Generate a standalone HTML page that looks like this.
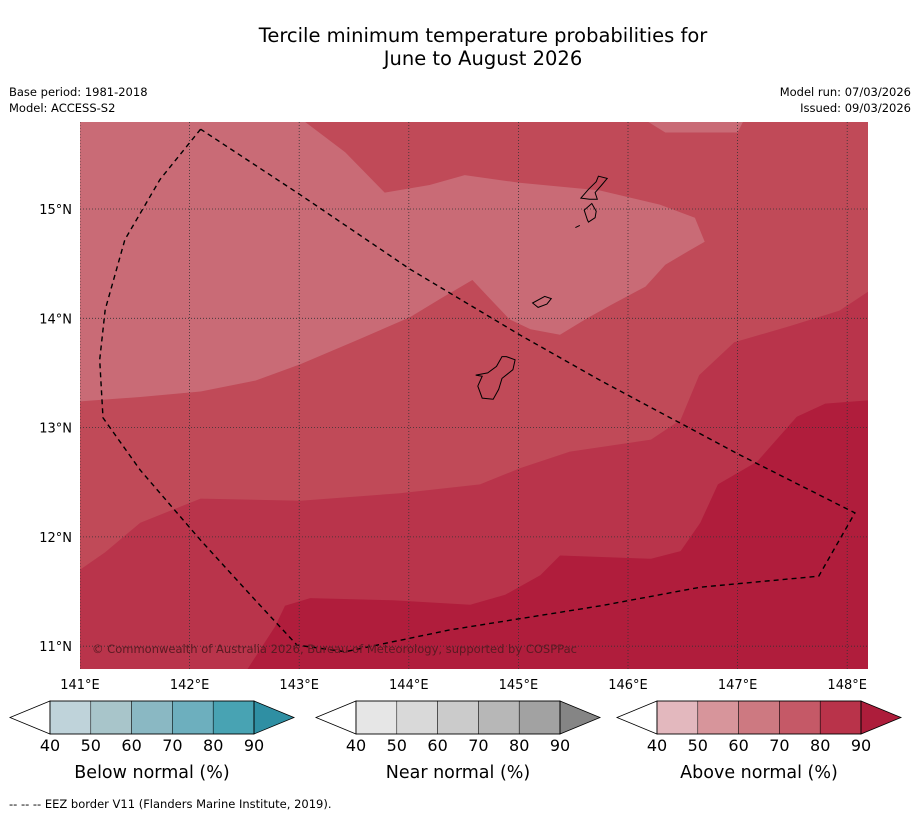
<!DOCTYPE html>
<html><head><meta charset="utf-8"><style>
body{margin:0;background:#fff;}
svg{display:block;font-family:"DejaVu Sans","Liberation Sans",sans-serif;}
</style></head><body>
<svg id="chart" width="919" height="816" viewBox="0 0 919 816">
<text x="483" y="42" font-size="19.5" text-anchor="middle">Tercile minimum temperature probabilities for</text>
<text x="483" y="65" font-size="19.5" text-anchor="middle">June to August 2026</text>
<text x="9" y="96" font-size="11.5">Base period: 1981-2018</text>
<text x="9" y="112" font-size="11.5">Model: ACCESS-S2</text>
<text x="911" y="96" font-size="11.5" text-anchor="end">Model run: 07/03/2026</text>
<text x="911" y="112" font-size="11.5" text-anchor="end">Issued: 09/03/2026</text>
<g id="map"></g>
<g id="bars"></g>
<text x="9" y="808" font-size="11.5">--  --  -- EEZ border V11 (Flanders Marine Institute, 2019).</text>
</svg>
<script>
const lonTicks=[141,142,143,144,145,146,147,148];
const latTicks=[11,12,13,14,15];
const levelColors=["#b01d3c","#b9344b","#c04a58","#c96b76"];
// contour polygons in [lon,lat]
const darkRegion=[[141,15.8],[148.2,15.8],[148.2,13.25],[147.8,13.22],[147.54,13.1],[147.18,12.69],[146.82,12.48],[146.66,12.13],[146.48,11.87],[146.21,11.8],[145.38,11.83],[145.2,11.65],[144.88,11.47],[144.56,11.38],[143.85,11.42],[143.1,11.44],[142.87,11.37],[142.78,11.18],[142.47,10.7],[141,10.7]];
const midRegion=[[141,15.8],[148.2,15.8],[148.2,14.25],[147.93,14.07],[147.48,13.93],[146.97,13.78],[146.65,13.48],[146.48,13.07],[146.21,12.89],[145.47,12.78],[145.02,12.63],[144.65,12.48],[143.92,12.4],[143.01,12.33],[142.1,12.35],[141.55,12.13],[141.23,11.86],[141,11.7]];
const lightRegion=[[141,15.8],[143.05,15.8],[143.42,15.52],[143.78,15.15],[144.19,15.22],[144.51,15.31],[145.01,15.24],[145.74,15.17],[146.29,15.04],[146.61,14.92],[146.7,14.7],[146.56,14.62],[146.34,14.49],[146.16,14.29],[145.84,14.12],[145.61,13.99],[145.38,13.85],[145.11,13.9],[144.92,13.99],[144.74,14.18],[144.58,14.35],[144.29,14.18],[144.01,14.01],[143.55,13.81],[143.01,13.58],[142.6,13.43],[142.1,13.33],[141.55,13.28],[141,13.24]];
const lightPatch=[[146.18,15.8],[147.05,15.8],[147.0,15.7],[146.34,15.7]];
const eez=[[142.1,15.73],[141.73,15.27],[141.41,14.72],[141.23,14.08],[141.18,13.62],[141.21,13.09],[141.55,12.61],[142.1,11.97],[142.6,11.42],[142.98,11.01],[143.42,10.95],[144.38,11.15],[145.75,11.37],[146.66,11.54],[147.74,11.64],[148.07,12.22],[147.02,12.75],[145.75,13.43],[145.01,13.85],[144.01,14.45],[143.01,15.13],[142.1,15.73]];
const islands=[
 [[144.89,13.65],[144.97,13.62],[144.95,13.53],[144.85,13.45],[144.82,13.35],[144.77,13.26],[144.67,13.27],[144.63,13.38],[144.67,13.47],[144.61,13.48],[144.72,13.5],[144.8,13.56],[144.85,13.65]],
 [[145.13,14.14],[145.24,14.2],[145.3,14.18],[145.26,14.13],[145.18,14.1]],
 [[145.57,15.1],[145.64,15.18],[145.71,15.25],[145.73,15.3],[145.81,15.28],[145.76,15.22],[145.7,15.15],[145.72,15.09],[145.65,15.09]],
 [[145.64,14.88],[145.7,14.92],[145.71,14.98],[145.67,15.05],[145.6,14.99],[145.63,14.9]],
 [[145.52,14.83],[145.56,14.85]]
];
const cbTicks=[40,50,60,70,80,90];
const cbTitles=["Below normal (%)","Near normal (%)","Above normal (%)"];
const cbColors=[["#bfd3da","#a8c5ca","#8ab8c3","#6dafbe","#48a3b3","#2f8fa3"],["#e6e6e6","#d9d9d9","#cbcbcb","#b7b7b7","#a2a2a2","#858585"],["#e3b8be","#d7959b","#cd7981","#c55967","#b9334a","#ad1d3b"]];
const cbStart=[10,316,617];

const NS="http://www.w3.org/2000/svg";
const X0=80,X1=868,Y0=122,Y1=669;
function x(lon){return 80+(lon-141)*109.6;}
function y(lat){return 209+(15-lat)*109.3;}
function mk(tag,attrs,parent){const e=document.createElementNS(NS,tag);for(const k in attrs)e.setAttribute(k,attrs[k]);parent.appendChild(e);return e;}
function pts(arr){return arr.map(p=>x(p[0]).toFixed(1)+","+y(p[1]).toFixed(1)).join(" ");}
const map=document.getElementById("map");
const defs=mk("defs",{},map);
const cp=mk("clipPath",{id:"clip"},defs);
mk("rect",{x:X0,y:Y0,width:X1-X0,height:Y1-Y0},cp);
const g=mk("g",{"clip-path":"url(#clip)"},map);
let el=mk("rect",{x:X0,y:Y0,width:X1-X0,height:Y1-Y0,fill:levelColors[0]},g);


[[darkRegion,1,'region-80-90'],[midRegion,2,'region-70-80'],[lightRegion,3,'region-60-70'],[lightPatch,3,'region-60-70-patch']].forEach(r=>{
 const p=mk("polygon",{points:pts(r[0]),fill:levelColors[r[1]]},g);
 
 
});
lonTicks.forEach(l=>{
 const ln=mk("line",{x1:x(l),x2:x(l),y1:Y0,y2:Y1,stroke:"#333",'stroke-width':0.8,'stroke-dasharray':"1,2"},g);
 
 
 const t=mk("text",{x:x(l),y:689,'font-size':13,'text-anchor':"middle"},map);
 t.textContent=l+"°E";
 
 
});
latTicks.forEach(l=>{
 const ln=mk("line",{x1:X0,x2:X1,y1:y(l),y2:y(l),stroke:"#333",'stroke-width':0.8,'stroke-dasharray':"1,2"},g);
 
 
 const t=mk("text",{x:72,y:y(l)+5,'font-size':13,'text-anchor':"end"},map);
 t.textContent=l+"°N";
 
 
});
islands.forEach(isl=>{
 const p=mk("polygon",{points:pts(isl),fill:"none",stroke:"#000",'stroke-width':1},g);
 
 
});
const ez=mk("polyline",{points:pts(eez),fill:"none",stroke:"#000",'stroke-width':1.4,'stroke-dasharray':"5,4"},g);


const cr=mk("text",{x:92,y:653,'font-size':11.5,fill:"#5a1a22",textLength:485},g);
cr.textContent="© Commonwealth of Australia 2026, Bureau of Meteorology, supported by COSPPac";



const bars=document.getElementById("bars");
cbStart.forEach((s,i)=>{
 const bg=mk("g",{},bars);
 
 
 const yt=701,yb=734,ym=717.5,w=40.8,rx0=s+40;
 mk("polygon",{points:`${s},${ym} ${rx0},${yt} ${rx0},${yb}`,fill:"#fff",stroke:"#000",'stroke-width':0.8},bg);
 for(let k=0;k<5;k++)mk("rect",{x:rx0+k*w,y:yt,width:w,height:yb-yt,fill:cbColors[i][k],stroke:"#000",'stroke-width':0.5},bg);
 const re=rx0+5*w;
 mk("polygon",{points:`${re},${yt} ${re+40},${ym} ${re},${yb}`,fill:cbColors[i][5],stroke:"#000",'stroke-width':0.8},bg);
 mk("rect",{x:rx0,y:yt,width:5*w,height:yb-yt,fill:"none",stroke:"#000",'stroke-width':0.8},bg);
 cbTicks.forEach((t,k)=>{
  const tx=mk("text",{x:rx0+k*w,y:751,'font-size':16,'text-anchor':"middle"},bg);
  tx.textContent=t;
  
  
 });
 const tt=mk("text",{x:rx0+2.5*w,y:778,'font-size':17.5,'text-anchor':"middle"},bg);
 tt.textContent=cbTitles[i];
 
 
});
</script>
</body></html>
